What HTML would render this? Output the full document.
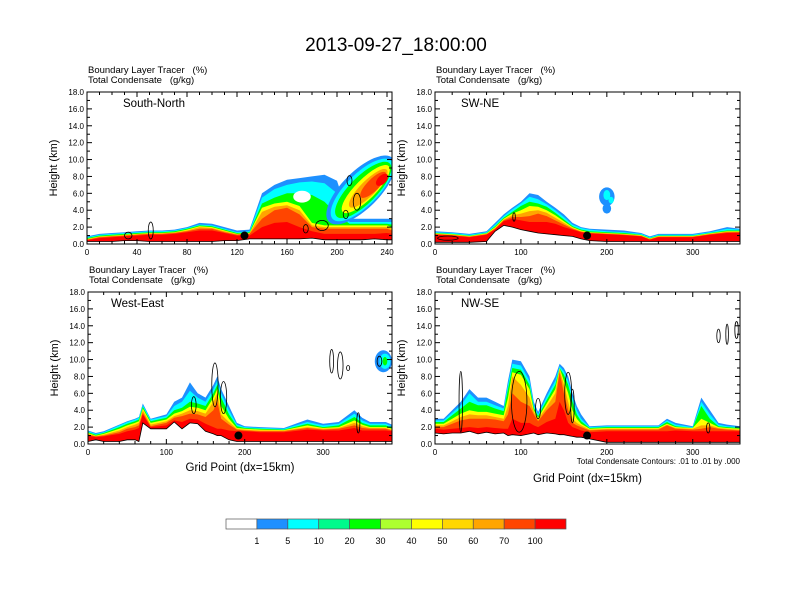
<!DOCTYPE html>
<html><head><meta charset="utf-8">
<style>
html,body{margin:0;padding:0;background:#fff;}
svg{display:block;font-family:"Liberation Sans",Arial,sans-serif;}
text{white-space:pre;}
</style></head>
<body>
<svg id="fig" width="792" height="612" viewBox="0 0 792 612" xmlns="http://www.w3.org/2000/svg" xml:space="preserve">
<rect width="792" height="612" fill="#fff"/>
<text x="396" y="51" font-size="19" text-anchor="middle">2013-09-27_18:00:00</text>
<g id="panels"></g>
<g id="cbar"></g>
</svg>
<script>
// ===== data =====
const levelColors = ["#ffffff","#1e90ff","#00ffff","#00fa8c","#00ff00","#adff2f","#ffff00","#ffd700","#ffa500","#ff4500","#ff0000"];
const levelLabels = ["1","5","10","20","30","40","50","60","70","100"];
const heightTicks = [0,2,4,6,8,10,12,14,16,18];
const bandLevels = [1,2,4,6,8,9,10];

// South-North
const snX = [0,10,20,30,40,50,60,70,80,90,100,110,120,130,140,150,160,170,180,190,200,210,220,230,240,244];
const snTerrain = [0.3,0.3,0.3,0.4,0.4,0.3,0.3,0.3,0.3,0.3,0.3,0.4,0.4,0.6,0.6,0.6,0.6,0.6,0.7,0.5,0.5,0.5,0.5,0.6,0.5,0.5];
const snBlue = [0.9,1.2,1.3,1.4,1.5,1.6,1.6,1.7,2.0,2.5,2.4,2.0,1.6,1.7,6.0,7.0,7.6,7.8,8.0,8.2,7.5,3.0,3.0,3.0,3.0,3.0];
const snCyan = [0.8,1.1,1.2,1.3,1.4,1.5,1.5,1.6,1.9,2.3,2.2,1.8,1.4,1.5,5.5,6.5,7.0,7.3,7.4,7.2,6.0,2.6,2.6,2.6,2.6,2.6];
const snGreen = [0.7,1.0,1.1,1.2,1.3,1.4,1.4,1.5,1.8,2.2,2.1,1.7,1.3,1.4,4.8,5.5,6.0,6.0,5.8,5.0,3.5,2.4,2.4,2.4,2.4,2.3];
const snYellow = [0.6,0.9,1.0,1.1,1.2,1.3,1.3,1.4,1.7,2.1,2.0,1.6,1.2,1.3,4.3,4.8,5.0,4.5,2.5,2.2,2.2,2.2,2.2,2.2,2.2,2.0];
const snOrange = [0.55,0.85,0.95,1.05,1.15,1.25,1.25,1.35,1.6,2.0,1.9,1.5,1.15,1.25,3.8,4.4,4.6,4.0,2.2,2.0,2.0,2.0,2.0,2.0,2.0,1.8];
const snOrangeRed = [0.5,0.8,0.9,1.0,1.1,1.2,1.2,1.3,1.5,1.8,1.8,1.4,1.1,1.2,3.0,4.0,4.3,3.5,2.0,1.8,1.8,1.8,1.8,1.8,1.8,1.6];
const snRed = [0.45,0.7,0.8,0.9,1.0,1.1,1.1,1.2,1.4,1.6,1.6,1.3,1.0,1.0,2.0,2.5,2.6,2.0,1.5,1.2,1.2,1.2,1.2,1.2,1.3,1.2];
const snBlobX = [219,220,221,223,225,229,236,172];
const snBlobZ = [6.4,6.4,6.4,6.5,6.6,7.0,7.6,5.6];
const snBlobRx = [36,33,30,26,21,14,6,7];
const snBlobRz = [2.2,1.9,1.6,1.2,0.9,0.7,0.5,0.7];
const snBlobLevel = [1,2,4,6,8,9,10,0];
const snBlobAngle = [-45,-45,-45,-45,-45,-45,-45,0];
const snContX = [33,51,175,188,207,210,216];
const snContZ = [1.0,1.6,1.8,2.2,3.5,7.5,5.0];
const snContRx = [3,2,2,5,2,2,3];
const snContRz = [0.4,1.0,0.5,0.6,0.5,0.6,1.0];
const snDot = [126,1.0];

// SW-NE
const swX = [0,20,40,60,70,80,90,100,110,120,130,140,150,160,170,180,200,220,240,250,260,280,300,320,340,355];
const swTerrain = [0.2,0.2,0.2,0.3,1.5,2.2,2.0,1.7,1.5,1.3,1.2,1.1,1.0,0.9,0.6,0.4,0.3,0.3,0.3,0.3,0.3,0.3,0.3,0.3,0.3,0.3];
const swBlue = [1.5,1.4,1.2,1.5,2.5,3.5,4.3,5.0,6.0,5.8,5.0,4.3,3.5,2.5,2.0,1.8,1.7,1.6,1.3,0.9,1.2,1.2,1.2,1.5,2.0,1.8];
const swCyan = [1.4,1.3,1.1,1.4,2.3,3.3,4.1,4.8,5.6,5.3,4.7,4.0,3.2,2.3,1.9,1.7,1.5,1.4,1.2,0.8,1.1,1.1,1.1,1.4,1.8,1.7];
const swGreen = [1.3,1.2,1.0,1.3,2.1,3.1,3.8,4.5,5.0,4.8,4.4,3.7,2.9,2.1,1.7,1.5,1.4,1.3,1.1,0.7,1.0,1.0,1.0,1.3,1.6,1.6];
const swYellow = [1.25,1.15,0.95,1.25,2.0,3.0,3.6,4.0,4.5,4.4,4.0,3.4,2.7,2.0,1.6,1.4,1.3,1.2,1.05,0.65,0.95,0.95,0.95,1.25,1.5,1.5];
const swOrange = [1.2,1.1,0.9,1.2,1.9,2.9,3.4,3.6,3.9,4.0,3.7,3.1,2.5,1.9,1.5,1.35,1.25,1.15,1.0,0.6,0.9,0.9,0.9,1.2,1.45,1.45];
const swOrangeRed = [1.15,1.05,0.85,1.15,1.8,2.8,3.2,3.2,3.3,3.6,3.3,2.8,2.3,1.8,1.45,1.3,1.2,1.1,0.95,0.55,0.85,0.85,0.85,1.15,1.4,1.4];
const swRed = [1.1,1.0,0.8,1.1,1.7,2.7,3.0,2.8,2.6,2.6,2.6,2.4,2.0,1.7,1.4,1.25,1.15,1.05,0.9,0.5,0.8,0.8,0.8,1.1,1.3,1.35];
const swBlobX = [200,200,200,205];
const swBlobZ = [5.6,4.2,5.8,5.2];
const swBlobRx = [9,5,4,3];
const swBlobRz = [1.1,0.6,0.6,0.4];
const swBlobLevel = [1,1,2,2];
const swBlobAngle = [0,0,0,0];
const swContX = [92,15];
const swContZ = [3.2,0.7];
const swContRx = [1.5,12];
const swContRz = [0.5,0.25];
const swDot = [177,1.0];

// West-East
const weX = [0,10,20,40,50,60,65,70,80,100,110,120,130,140,150,160,165,170,180,190,200,220,250,280,300,320,340,350,360,380,388];
const weTerrain = [0.3,0.5,0.3,0.3,0.5,0.5,0.3,2.5,1.8,1.8,2.6,1.8,2.5,2.4,1.5,1.2,1.0,1.0,0.5,0.3,0.3,0.3,0.3,0.3,0.3,0.3,0.3,0.3,0.3,0.3,0.3];
const weBlue = [1.6,1.3,1.5,2.3,2.7,3.0,3.2,4.8,3.0,3.5,5.0,5.5,7.3,6.0,5.5,7.0,8.0,6.5,4.5,2.5,2.1,2.0,1.9,2.9,2.4,2.6,4.0,3.1,2.6,2.6,2.3];
const weCyan = [1.5,1.2,1.4,2.2,2.6,2.9,3.1,4.6,2.9,3.3,4.5,5.0,6.3,5.5,5.0,6.5,7.5,6.0,4.0,2.3,2.0,1.9,1.8,2.6,2.2,2.4,3.6,2.8,2.4,2.4,2.1];
const weGreen = [1.4,1.1,1.3,2.0,2.4,2.7,2.9,4.4,2.7,3.1,4.0,4.3,5.0,4.8,4.5,6.0,7.0,5.5,3.5,2.1,1.9,1.8,1.7,2.4,2.0,2.2,3.2,2.5,2.2,2.2,1.9];
const weYellow = [1.3,1.0,1.2,1.8,2.2,2.5,2.7,4.2,2.5,2.9,3.6,3.9,4.4,4.3,4.0,5.5,6.5,4.5,3.0,1.9,1.8,1.7,1.65,2.2,1.9,2.0,2.8,2.3,2.0,2.0,1.8];
const weOrange = [1.2,0.95,1.1,1.6,2.0,2.3,2.5,4.0,2.3,2.7,3.3,3.6,4.0,3.9,3.6,5.0,6.0,3.5,2.6,1.8,1.7,1.6,1.6,2.0,1.8,1.9,2.5,2.1,1.9,1.9,1.7];
const weOrangeRed = [1.1,0.9,1.0,1.4,1.8,2.0,2.2,3.7,2.1,2.5,3.1,3.3,3.6,3.5,3.2,4.0,5.0,3.0,2.3,1.7,1.6,1.5,1.5,1.9,1.7,1.8,2.2,1.9,1.8,1.8,1.6];
const weRed = [1.0,0.8,0.9,1.2,1.5,1.7,1.9,3.5,2.0,2.2,2.8,2.6,3.0,2.9,2.4,2.0,1.8,1.8,1.6,1.5,1.5,1.4,1.4,1.7,1.6,1.6,1.9,1.6,1.6,1.6,1.5];
const weBlobX = [377,379,379];
const weBlobZ = [9.8,9.8,9.8];
const weBlobRx = [11,7,3];
const weBlobRz = [1.3,0.9,0.5];
const weBlobLevel = [1,2,4];
const weBlobAngle = [0,0,0];
const weContX = [162,173,135,311,322,332,345,372];
const weContZ = [7.0,5.5,4.6,9.8,9.3,9.0,2.5,9.8];
const weContRx = [4,4,3,2.5,3.5,2,2,3];
const weContRz = [2.6,1.9,1.0,1.4,1.6,0.3,1.2,0.6];
const weDot = [192,1.0];

// NW-SE
const nwX = [0,10,20,30,40,50,60,70,80,85,90,100,110,115,120,130,140,145,150,155,160,165,170,180,200,220,240,260,270,280,300,310,320,330,340,355];
const nwTerrain = [1.3,1.2,1.3,1.3,1.5,1.2,1.4,1.2,1.3,1.0,1.1,1.0,1.2,1.3,1.1,1.3,1.2,1.1,1.1,1.0,0.9,0.8,0.8,0.6,0.2,0.2,0.2,0.2,0.2,0.2,0.2,0.2,0.2,0.2,0.2,0.2];
const nwBlue = [3.0,3.0,4.0,5.0,6.5,5.5,5.5,5.0,4.5,7.5,10.0,9.8,8.0,5.0,3.8,6.0,8.0,9.5,9.0,8.0,6.0,4.5,3.5,2.1,2.2,2.2,2.2,2.2,3.0,2.5,2.1,5.5,4.0,2.5,2.3,2.1];
const nwCyan = [2.8,2.8,3.7,4.6,6.0,5.0,5.0,4.6,4.2,7.0,9.5,9.3,7.5,4.6,3.5,5.6,7.5,9.2,8.6,7.5,5.5,4.0,3.0,2.0,2.1,2.1,2.1,2.1,2.8,2.3,2.0,5.0,3.5,2.3,2.1,2.0];
const nwGreen = [2.6,2.6,3.4,4.2,5.0,4.6,4.6,4.2,3.9,6.5,9.0,8.8,7.0,4.3,3.3,5.2,7.0,9.0,8.2,7.0,5.0,3.5,2.7,1.9,2.0,2.0,2.0,2.0,2.6,2.1,1.9,4.5,3.0,2.1,2.0,1.9];
const nwYellow = [2.4,2.4,3.0,3.6,4.0,3.8,3.8,3.6,3.4,5.5,8.5,8.2,6.5,4.0,3.1,4.8,6.5,9.0,7.5,6.0,4.0,3.0,2.4,1.8,1.9,1.9,1.9,1.9,2.4,2.0,1.9,3.0,2.5,2.0,1.9,1.8];
const nwOrange = [2.2,2.2,2.7,3.2,3.5,3.4,3.4,3.2,3.0,4.5,8.0,7.0,5.5,3.8,2.9,4.4,6.0,8.8,7.0,5.0,3.0,2.5,2.2,1.7,1.8,1.8,1.8,1.8,2.3,1.9,1.8,2.2,2.2,1.9,1.8,1.7];
const nwOrangeRed = [2.0,2.0,2.4,2.8,3.0,3.0,3.0,2.9,2.7,3.5,6.0,5.0,4.5,3.5,2.7,4.0,5.0,8.5,6.0,4.0,2.5,2.2,2.0,1.6,1.7,1.7,1.7,1.7,2.2,1.8,1.7,1.8,2.0,1.8,1.7,1.6];
const nwRed = [1.8,1.7,1.8,1.9,2.0,1.9,2.0,1.9,1.8,1.8,3.0,2.5,2.5,2.2,2.0,2.6,3.0,5.0,4.0,2.5,2.0,1.8,1.6,1.4,1.5,1.5,1.5,1.5,1.5,1.6,1.5,1.5,1.5,1.5,1.5,1.5,1.4];
const nwBlobX = [];
const nwBlobZ = [];
const nwBlobRx = [];
const nwBlobRz = [];
const nwBlobLevel = [];
const nwBlobAngle = [];
const nwContX = [30,98,120,155,160,318,330,340,351];
const nwContZ = [5.0,5.0,4.2,6.0,4.5,1.9,12.8,13.0,13.5];
const nwContRx = [2,9,3,4,2,2,2,1.5,2];
const nwContRz = [3.6,3.6,1.2,2.5,2.0,0.6,0.8,1.2,1.0];
const nwDot = [177,1.0];

// ===== drawing =====
const NS = "http://www.w3.org/2000/svg";
function mk(tag, attrs, parent){
  const e = document.createElementNS(NS, tag);
  for (const k in attrs) e.setAttribute(k, attrs[k]);
  if (parent) parent.appendChild(e);
  return e;
}
const panelsG = document.getElementById('panels');

const panels = [
  {id:'south-north', label:'South-North', lx:36, x0:87, y0:92, w:305, h:152, xmax:244, xt:[0,40,80,120,160,200,240], minor:10,
   X:snX, T:snTerrain, B:[snBlue,snCyan,snGreen,snYellow,snOrange,snOrangeRed,snRed],
   bx:snBlobX,bz:snBlobZ,brx:snBlobRx,brz:snBlobRz,bl:snBlobLevel,ba:snBlobAngle, cx:snContX,cz:snContZ,crx:snContRx,crz:snContRz, dot:snDot, xtitle:false},
  {id:'sw-ne', label:'SW-NE', lx:26, x0:435, y0:92, w:305, h:152, xmax:355, xt:[0,100,200,300], minor:20,
   X:swX, T:swTerrain, B:[swBlue,swCyan,swGreen,swYellow,swOrange,swOrangeRed,swRed],
   bx:swBlobX,bz:swBlobZ,brx:swBlobRx,brz:swBlobRz,bl:swBlobLevel,ba:swBlobAngle, cx:swContX,cz:swContZ,crx:swContRx,crz:swContRz, dot:swDot, xtitle:false},
  {id:'west-east', label:'West-East', lx:23, x0:88, y0:292, w:304, h:152, xmax:388, xt:[0,100,200,300], minor:20,
   X:weX, T:weTerrain, B:[weBlue,weCyan,weGreen,weYellow,weOrange,weOrangeRed,weRed],
   bx:weBlobX,bz:weBlobZ,brx:weBlobRx,brz:weBlobRz,bl:weBlobLevel,ba:weBlobAngle, cx:weContX,cz:weContZ,crx:weContRx,crz:weContRz, dot:weDot, xtitle:true, xtitleY:471},
  {id:'nw-se', label:'NW-SE', lx:26, x0:435, y0:292, w:305, h:152, xmax:355, xt:[0,100,200,300], minor:20,
   X:nwX, T:nwTerrain, B:[nwBlue,nwCyan,nwGreen,nwYellow,nwOrange,nwOrangeRed,nwRed],
   bx:nwBlobX,bz:nwBlobZ,brx:nwBlobRx,brz:nwBlobRz,bl:nwBlobLevel,ba:nwBlobAngle, cx:nwContX,cz:nwContZ,crx:nwContRx,crz:nwContRz, dot:nwDot, xtitle:true, xtitleY:482}
];

panels.forEach((p, pi) => {
  const g = mk('g', {}, panelsG);
  
  
  const sx = v => p.x0 + v / p.xmax * p.w;
  const sz = v => p.y0 + p.h - v / 18 * p.h;
  const clipId = 'clip' + pi;
  const cp = mk('clipPath', {id: clipId}, g);
  mk('rect', {x:p.x0, y:p.y0, width:p.w, height:p.h}, cp);
  const plot = mk('g', {'clip-path':'url(#' + clipId + ')'}, g);
  
  

  p.B.forEach((arr, bi) => {
    let pts = [];
    for (let i = 0; i < p.X.length; i++) pts.push(sx(p.X[i]).toFixed(1) + ',' + sz(Math.max(arr[i], p.T[i])).toFixed(1));
    for (let i = p.X.length - 1; i >= 0; i--) pts.push(sx(p.X[i]).toFixed(1) + ',' + sz(p.T[i]).toFixed(1));
    const poly = mk('polygon', {points: pts.join(' '), fill: levelColors[bandLevels[bi]]}, plot);
    
    
  });
  for (let i = 0; i < p.bx.length; i++) {
    const cx = sx(p.bx[i]), cy = sz(p.bz[i]);
    const e = mk('ellipse', {cx:cx, cy:cy, rx:p.brx[i]/p.xmax*p.w, ry:p.brz[i]/18*p.h, fill:levelColors[p.bl[i]], transform:'rotate(' + p.ba[i] + ' ' + cx + ' ' + cy + ')'}, plot);
    
    
  }
  const tl = mk('polyline', {points: p.X.map((x,i)=>sx(x).toFixed(1)+','+sz(p.T[i]).toFixed(1)).join(' '), fill:'none', stroke:'#000', 'stroke-width':0.8}, plot);
  
  
  for (let i = 0; i < p.cx.length; i++) {
    const e = mk('ellipse', {cx:sx(p.cx[i]), cy:sz(p.cz[i]), rx:p.crx[i]/p.xmax*p.w, ry:p.crz[i]/18*p.h, fill:'none', stroke:'#000', 'stroke-width':0.8}, plot);
    
    
  }
  const d = mk('circle', {cx:sx(p.dot[0]), cy:sz(p.dot[1]), r:4, fill:'#000'}, plot);
  
  

  const fr = mk('rect', {x:p.x0, y:p.y0, width:p.w, height:p.h, fill:'none', stroke:'#000', 'stroke-width':1}, g);
  
  
  heightTicks.forEach(t => {
    const y = sz(t);
    mk('line', {x1:p.x0, x2:p.x0+5, y1:y, y2:y, stroke:'#000'}, g);
    mk('line', {x1:p.x0+p.w, x2:p.x0+p.w-5, y1:y, y2:y, stroke:'#000'}, g);
    const lb = mk('text', {x:p.x0-3, y:y+3, 'font-size':8, 'text-anchor':'end'}, g);
    lb.textContent = t.toFixed(1);
    
    
    if (t < 18) {
      const ym = sz(t + 1);
      mk('line', {x1:p.x0, x2:p.x0+3, y1:ym, y2:ym, stroke:'#000'}, g);
      mk('line', {x1:p.x0+p.w, x2:p.x0+p.w-3, y1:ym, y2:ym, stroke:'#000'}, g);
    }
  });
  for (let v = 0; v <= p.xmax; v += p.minor) {
    const x = sx(v);
    const major = p.xt.includes(v);
    const L = major ? 5 : 3;
    mk('line', {x1:x, x2:x, y1:p.y0+p.h, y2:p.y0+p.h-L, stroke:'#000'}, g);
    mk('line', {x1:x, x2:x, y1:p.y0, y2:p.y0+L, stroke:'#000'}, g);
  }
  p.xt.forEach(v => {
    const lb = mk('text', {x:sx(v), y:p.y0+p.h+11, 'font-size':8, 'text-anchor':'middle'}, g);
    lb.textContent = v;
    
    
  });
  const h1 = mk('text', {x:p.x0+1, y:p.y0-19, 'font-size':9.5}, g);
  h1.textContent = 'Boundary Layer Tracer   (%)';
  
  
  const h2 = mk('text', {x:p.x0+1, y:p.y0-9, 'font-size':9.5}, g);
  h2.textContent = 'Total Condensate   (g/kg)';
  
  
  const pl = mk('text', {x:p.x0+p.lx, y:p.y0+15, 'font-size':11.5}, g);
  pl.textContent = p.label;
  
  
  const yt = mk('text', {x:0, y:0, 'font-size':11, 'text-anchor':'middle', transform:'translate(' + (p.x0-30) + ',' + (p.y0+p.h/2) + ') rotate(-90)'}, g);
  yt.textContent = 'Height (km)';
  
  
  if (p.xtitle) {
    const xt = mk('text', {x:p.x0+p.w/2, y:p.xtitleY, 'font-size':11.5, 'text-anchor':'middle'}, g);
    xt.textContent = 'Grid Point (dx=15km)';
    
    
  }
});
const ci = mk('text', {x:740, y:464, 'font-size':8, 'text-anchor':'end'}, panelsG);
ci.textContent = 'Total Condensate Contours: .01 to .01 by .000';



const cb = document.getElementById('cbar');
const cbX = 226, cbY = 519, cbW = 340, cbH = 10;
const bw = cbW / levelColors.length;
levelColors.forEach((c, i) => {
  const r = mk('rect', {x:cbX + i*bw, y:cbY, width:bw, height:cbH, fill:c, stroke:'#555', 'stroke-width':0.7}, cb);
  
  
});
levelLabels.forEach((t, i) => {
  const lb = mk('text', {x:cbX + (i+1)*bw, y:544, 'font-size':9, 'text-anchor':'middle'}, cb);
  lb.textContent = t;
  
  
});
</script>
</body></html>
